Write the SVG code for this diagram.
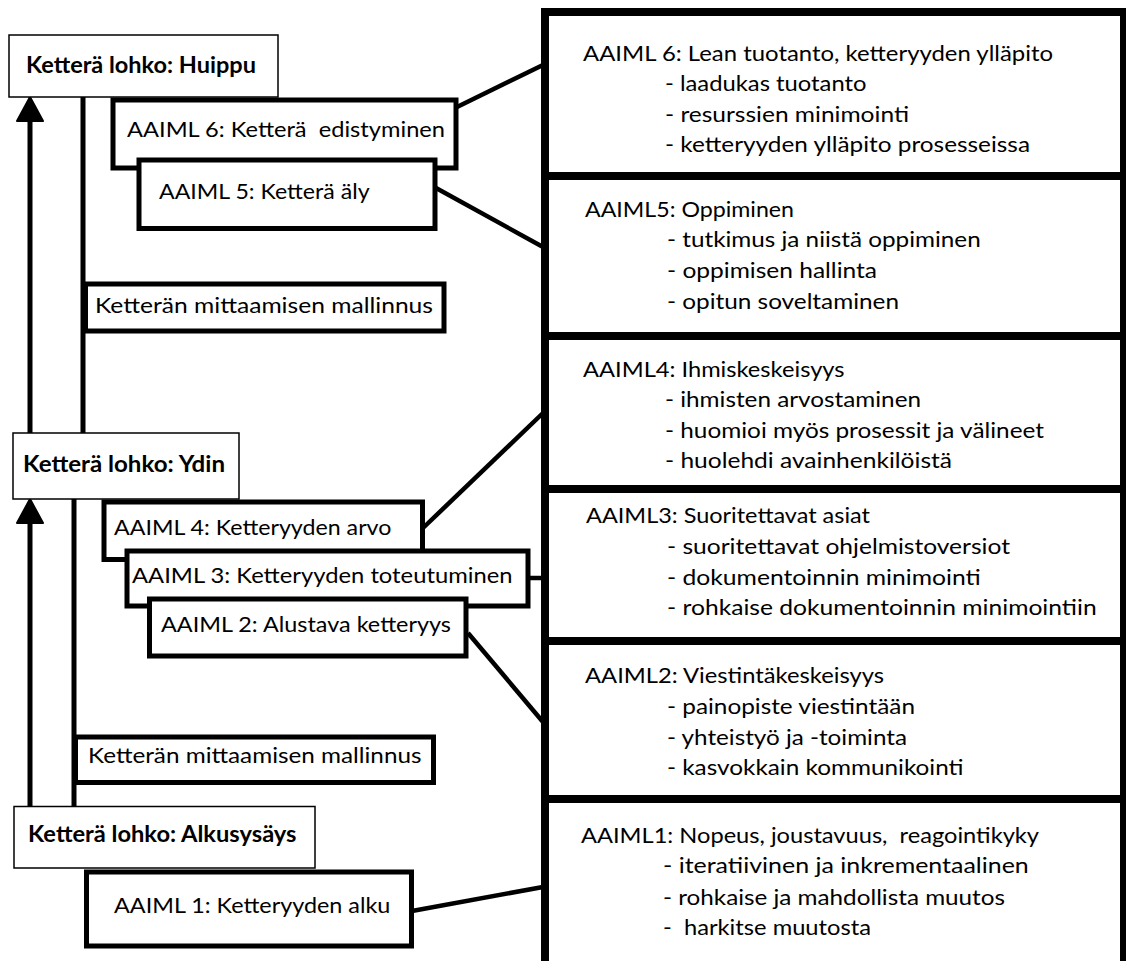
<svg xmlns="http://www.w3.org/2000/svg" width="1126" height="961" viewBox="0 0 1126 961">
<style>
  text { font-family: Lato, "Liberation Sans", sans-serif; fill: #000; font-size: 22px; }
  .b { font-weight: bold; }
  .thin { fill: #fff; stroke: #000; stroke-width: 1.5; }
  .thick { fill: #fff; stroke: #000; stroke-width: 5; }
  .col { fill: #fff; stroke: #000; stroke-width: 8; }
  .div { stroke: #000; stroke-width: 8; }
  .ln { stroke: #000; stroke-width: 5; fill: none; }
  .cn { stroke: #000; stroke-width: 4.5; fill: none; }
</style>
<defs>
  <marker id="ah" markerUnits="userSpaceOnUse" viewBox="0 0 26 30" markerWidth="26" markerHeight="30" refX="12" refY="15" orient="auto">
    <path d="M1,2 L25,15 L1,28 Z" fill="#000" stroke="#000" stroke-width="2" stroke-linejoin="round"/>
  </marker>
</defs>
<rect width="1126" height="961" fill="#fff"/>

<g id="right-column">
  <rect class="col" x="545" y="12" width="579" height="1000"/>
  <line class="div" x1="545" y1="176" x2="1124" y2="176"/>
  <line class="div" x1="545" y1="336" x2="1124" y2="336"/>
  <line class="div" x1="545" y1="489" x2="1124" y2="489"/>
  <line class="div" x1="545" y1="641" x2="1124" y2="641"/>
  <line class="div" x1="545" y1="799" x2="1124" y2="799"/>
</g>

<g id="aaiml6-detail">
  <text x="583" y="61" textLength="470" lengthAdjust="spacingAndGlyphs">AAIML 6: Lean tuotanto, ketteryyden ylläpito</text>
  <text x="665" y="91" textLength="201.5" lengthAdjust="spacingAndGlyphs">- laadukas tuotanto</text>
  <text x="665" y="122" textLength="244" lengthAdjust="spacingAndGlyphs">- resurssien minimointi</text>
  <text x="665" y="152" textLength="365" lengthAdjust="spacingAndGlyphs">- ketteryyden ylläpito prosesseissa</text>
</g>
<g id="aaiml5-detail">
  <text x="585" y="217" textLength="209" lengthAdjust="spacingAndGlyphs">AAIML5: Oppiminen</text>
  <text x="667" y="247" textLength="313.7" lengthAdjust="spacingAndGlyphs">- tutkimus ja niistä oppiminen</text>
  <text x="667" y="278" textLength="210" lengthAdjust="spacingAndGlyphs">- oppimisen hallinta</text>
  <text x="667" y="309" textLength="232" lengthAdjust="spacingAndGlyphs">- opitun soveltaminen</text>
</g>
<g id="aaiml4-detail">
  <text x="583" y="377" textLength="261.6" lengthAdjust="spacingAndGlyphs">AAIML4: Ihmiskeskeisyys</text>
  <text x="665" y="407" textLength="256" lengthAdjust="spacingAndGlyphs">- ihmisten arvostaminen</text>
  <text x="665" y="438" textLength="379" lengthAdjust="spacingAndGlyphs">- huomioi myös prosessit ja välineet</text>
  <text x="665" y="468" textLength="287" lengthAdjust="spacingAndGlyphs">- huolehdi avainhenkilöistä</text>
</g>
<g id="aaiml3-detail">
  <text x="586" y="523" textLength="284" lengthAdjust="spacingAndGlyphs">AAIML3: Suoritettavat asiat</text>
  <text x="667" y="554" textLength="343" lengthAdjust="spacingAndGlyphs">- suoritettavat ohjelmistoversiot</text>
  <text x="667" y="585" textLength="313.7" lengthAdjust="spacingAndGlyphs">- dokumentoinnin minimointi</text>
  <text x="667" y="615" textLength="429.7" lengthAdjust="spacingAndGlyphs">- rohkaise dokumentoinnin minimointiin</text>
</g>
<g id="aaiml2-detail">
  <text x="585" y="683" textLength="299" lengthAdjust="spacingAndGlyphs">AAIML2: Viestintäkeskeisyys</text>
  <text x="667" y="714" textLength="248" lengthAdjust="spacingAndGlyphs">- painopiste viestintään</text>
  <text x="667" y="745" textLength="240" lengthAdjust="spacingAndGlyphs">- yhteistyö ja -toiminta</text>
  <text x="667" y="775" textLength="296.6" lengthAdjust="spacingAndGlyphs">- kasvokkain kommunikointi</text>
</g>
<g id="aaiml1-detail">
  <text x="581" y="843" textLength="458" lengthAdjust="spacingAndGlyphs" xml:space="preserve">AAIML1: Nopeus, joustavuus,  reagointikyky</text>
  <text x="663" y="873" textLength="365.8" lengthAdjust="spacingAndGlyphs">- iteratiivinen ja inkrementaalinen</text>
  <text x="663" y="905" textLength="342" lengthAdjust="spacingAndGlyphs">- rohkaise ja mahdollista muutos</text>
  <text x="663" y="935" textLength="208" lengthAdjust="spacingAndGlyphs" xml:space="preserve">-  harkitse muutosta</text>
</g>

<g id="connectors">
  <line class="ln" x1="30" y1="433" x2="30" y2="110" marker-end="url(#ah)"/>
  <line class="ln" x1="30" y1="806" x2="30" y2="512" marker-end="url(#ah)"/>
  <line class="ln" x1="83" y1="97" x2="83" y2="433"/>
  <line class="ln" x1="74" y1="499" x2="74" y2="806"/>
  <line class="cn" x1="457" y1="107" x2="543" y2="65"/>
  <line class="cn" x1="436" y1="188" x2="543" y2="247"/>
  <line class="cn" x1="423" y1="528" x2="543" y2="413"/>
  <line class="cn" x1="528" y1="578" x2="543" y2="578"/>
  <line class="cn" x1="468" y1="633" x2="543" y2="722"/>
  <line class="cn" x1="412" y1="911" x2="543" y2="887"/>
</g>

<g id="huippu">
  <rect class="thin" x="9" y="35" width="269" height="62"/>
  <text class="b" x="26" y="73" textLength="230" lengthAdjust="spacingAndGlyphs">Ketterä lohko: Huippu</text>
</g>
<g id="aaiml6">
  <rect class="thick" x="113" y="100" width="343" height="68"/>
  <text x="127" y="137" textLength="318" lengthAdjust="spacingAndGlyphs" xml:space="preserve">AAIML 6: Ketterä  edistyminen</text>
</g>
<g id="aaiml5">
  <rect class="thick" x="139" y="160" width="296" height="68.5"/>
  <text x="159" y="199" textLength="210.6" lengthAdjust="spacingAndGlyphs">AAIML 5: Ketterä äly</text>
</g>
<g id="mallinnus-1">
  <rect class="thick" x="85.5" y="284" width="358.5" height="47"/>
  <text x="95" y="313" textLength="338" lengthAdjust="spacingAndGlyphs">Ketterän mittaamisen mallinnus</text>
</g>
<g id="ydin">
  <rect class="thin" x="13" y="433" width="226" height="66"/>
  <text class="b" x="23" y="472" textLength="202" lengthAdjust="spacingAndGlyphs">Ketterä lohko: Ydin</text>
</g>
<g id="aaiml4">
  <rect class="thick" x="104" y="502" width="318.5" height="57.5"/>
  <text x="114" y="535" textLength="277.4" lengthAdjust="spacingAndGlyphs">AAIML 4: Ketteryyden arvo</text>
</g>
<g id="aaiml3">
  <rect class="thick" x="127" y="551" width="401" height="55"/>
  <text x="132" y="583" textLength="380.5" lengthAdjust="spacingAndGlyphs">AAIML 3: Ketteryyden toteutuminen</text>
</g>
<g id="aaiml2">
  <rect class="thick" x="149.5" y="599" width="316.5" height="57"/>
  <text x="161" y="632" textLength="290" lengthAdjust="spacingAndGlyphs">AAIML 2: Alustava ketteryys</text>
</g>
<g id="mallinnus-2">
  <rect class="thick" x="75.5" y="737" width="358" height="45.5"/>
  <text x="88" y="763" textLength="333.5" lengthAdjust="spacingAndGlyphs">Ketterän mittaamisen mallinnus</text>
</g>
<g id="alkusysays">
  <rect class="thin" x="14" y="806.5" width="301" height="61.5"/>
  <text class="b" x="28" y="842" textLength="268.5" lengthAdjust="spacingAndGlyphs">Ketterä lohko: Alkusysäys</text>
</g>
<g id="aaiml1">
  <rect class="thick" x="86.5" y="872" width="325" height="74"/>
  <text x="114" y="913" textLength="276.4" lengthAdjust="spacingAndGlyphs">AAIML 1: Ketteryyden alku</text>
</g>
</svg>
